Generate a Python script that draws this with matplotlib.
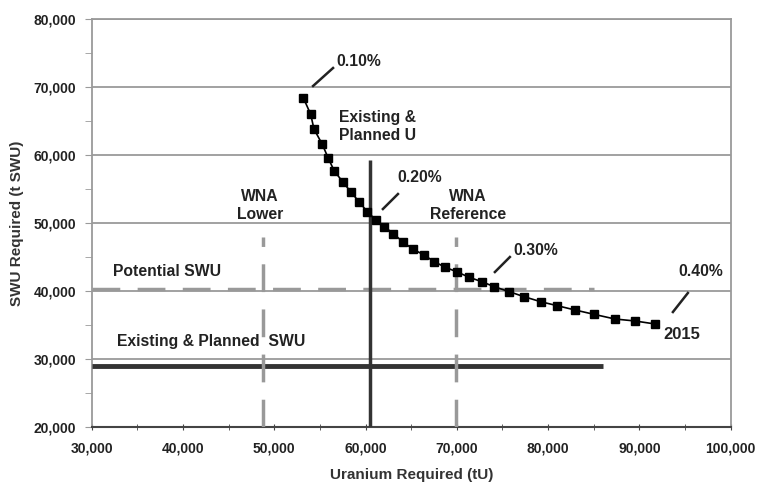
import numpy as np
import matplotlib.pyplot as plt
from matplotlib.ticker import MultipleLocator, FuncFormatter

plt.rcParams['font.family'] = ['Liberation Sans', 'DejaVu Sans']

# tails assay curve 0.10% .. 0.40% (2015)
uranium = [53180, 53990, 54350, 55260, 55920, 56575, 57495, 58370, 59280, 60190,
           61140, 62050, 63040, 64130, 65230, 66400, 67530, 68730, 70050, 71360,
           72720, 74100, 75745, 77355, 79185, 81000, 82940, 85020, 87320, 89510,
           91700]
swu = [68450, 66010, 63840, 61590, 59530, 57660, 56080, 54610, 53140, 51660,
       50440, 49460, 48450, 47160, 46130, 45290, 44300, 43480, 42780, 42000,
       41360, 40620, 39880, 39150, 38410, 37820, 37190, 36550, 35860, 35570,
       35130]

existing_swu = 28900
existing_swu_end = 86000
potential_swu = 40250
potential_swu_end = 85000
existing_u = 60500
existing_u_top = 59300
wna_lower = 48800
wna_reference = 69900
wna_top = 48000

fig = plt.figure(figsize=(7.59, 4.83), dpi=100)
ax = fig.add_axes([0.1208, 0.1166, 0.8419, 0.8434])

ax.set_xlim(30000, 100000)
ax.set_ylim(20000, 80000)
ax.xaxis.set_major_locator(MultipleLocator(10000))
ax.xaxis.set_minor_locator(MultipleLocator(5000))
ax.yaxis.set_major_locator(MultipleLocator(10000))
ax.yaxis.set_minor_locator(MultipleLocator(5000))
fmt = FuncFormatter(lambda v, p: f'{int(v):,}')
ax.xaxis.set_major_formatter(fmt)
ax.yaxis.set_major_formatter(fmt)

ax.grid(axis='y', which='major', color='#9a9a9a', lw=1.3)
ax.set_axisbelow(True)
for s in ['top', 'right', 'left']:
    ax.spines[s].set_color('#9a9a9a')
    ax.spines[s].set_linewidth(1.3)
ax.spines['bottom'].set_color('#444444')
ax.spines['bottom'].set_linewidth(1.5)

ax.tick_params(axis='y', which='both', direction='out', color='#9a9a9a', length=5)
ax.tick_params(axis='x', which='both', direction='inout', color='#444444', length=5)
ax.tick_params(axis='both', which='major', labelsize=10, labelcolor='#222222')
ax.tick_params(axis='x', pad=8)
ax.tick_params(axis='y', pad=6)
for lab in ax.get_xticklabels() + ax.get_yticklabels():
    lab.set_fontweight('bold')

# supply lines
ax.plot([30000, existing_swu_end], [existing_swu, existing_swu], color='#333333', lw=3.5,
        solid_capstyle='butt', zorder=3)
ax.plot([30000, potential_swu_end], [potential_swu, potential_swu], color='#999999', lw=2.5,
        dashes=(8, 5), zorder=3)
ax.plot([existing_u, existing_u], [20000, existing_u_top], color='#333333', lw=2.5,
        solid_capstyle='butt', zorder=3)
for xv in [wna_lower, wna_reference]:
    ax.plot([xv, xv], [20000, wna_top], color='#999999', lw=2.5, dashes=(8, 5), zorder=3)

# curve
ax.plot(uranium, swu, color='black', lw=1.2, marker='s', ms=5.8, zorder=4)

tk = dict(fontsize=11.3, fontweight='bold', color='#222222', va='center')
ax.text(56760, 73760, '0.10%', **tk)
ax.plot([54250, 56440], [70180, 72830], color='#222222', lw=1.8)
ax.text(57090, 64140, 'Existing &\nPlanned U', linespacing=1.25, **tk)
ax.text(63450, 56630, '0.20%', **tk)
ax.plot([61900, 63550], [52060, 54270], color='#222222', lw=1.8)
ax.text(71220, 52580, 'WNA\nReference', ha='center', linespacing=1.25, **tk)
ax.text(48440, 52580, 'WNA\nLower', ha='center', linespacing=1.25, **tk)
ax.text(76150, 46020, '0.30%', **tk)
ax.plot([74170, 75810], [42780, 44990], color='#222222', lw=1.8)
ax.text(94220, 42900, '0.40%', **tk)
ax.plot([93670, 95310], [36890, 39690], color='#222222', lw=1.8)
ax.text(92580, 33510, '2015', fontsize=12, fontweight='bold', color='#222222', va='center')
ax.text(32330, 42830, 'Potential SWU', **tk)
ax.text(32770, 32520, 'Existing & Planned  SWU', **tk)

ax.set_xlabel('Uranium Required (tU)', fontsize=11, fontweight='bold', color='#333333',
              labelpad=9)
ax.set_ylabel('SWU Required (t SWU)', fontsize=11, fontweight='bold', color='#333333',
              labelpad=7)

fig.savefig('out.png', dpi=100, facecolor='w')
